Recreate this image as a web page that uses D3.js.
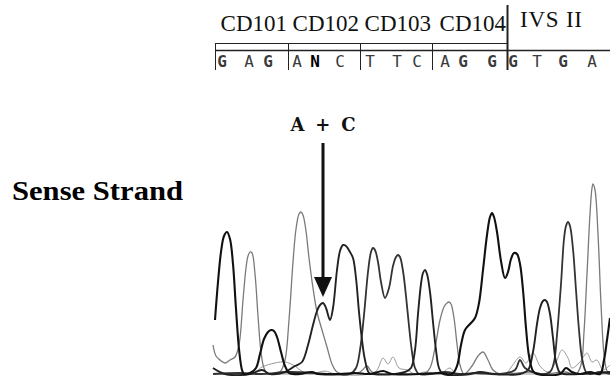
<!DOCTYPE html>
<html>
<head>
<meta charset="utf-8">
<script src="https://cdn.jsdelivr.net/npm/d3@7"></script>
<style>
  html, body { margin: 0; padding: 0; background: #fff; }
  svg { display: block; }
</style>
</head>
<body>
<div id="chart"></div>
<script>
// codons shown above the trace, and where each one ends (scan units)
const codons = ['CD101', 'CD102', 'CD103', 'CD104'];
const codonBounds = [2, 75, 147, 219, 294];
const intronLabel = 'IVS II';

// base calls and their scan positions
const bases = ['G', 'A', 'G', 'A', 'N', 'C', 'T', 'T', 'C', 'A', 'G', 'G', 'G', 'T', 'G', 'A'];
const basePos = [9, 36, 55, 84, 102, 127, 157, 184, 204, 232, 250, 279, 300, 324, 350, 379];

// chromatogram traces, [scan, signal]
const traceG = [[2,54],[5,92],[8,122],[11,138],[14,142],[17,135],[20,110],[23,65],[26,25],[29,4],[31,0],[37,1],[43,6],[47,20],[51,35],[55,42],[58,44],[61,43],[64,37],[68,22],[72,8],[76,1],[80,0],[87,0],[99,2],[105,0],[127,0],[142,1],[157,0],[170,3],[179,0],[207,0],[227,1],[239,0],[244,8],[248,29],[252,44],[257,50],[262,56],[266,71],[270,104],[274,139],[277,157],[279,161],[281,157],[284,142],[288,113],[292,96],[295,102],[298,115],[301,121],[304,120],[307,110],[310,84],[313,46],[316,18],[320,3],[324,0],[347,0],[353,6],[359,2],[367,0],[377,2],[387,0],[391,14],[394,34],[397,56]];
const traceC = [[0,6],[12,0],[37,0],[49,4],[57,0],[72,2],[82,8],[89,12],[95,29],[100,49],[104,63],[107,69],[110,71],[113,66],[117,54],[120,66],[124,104],[127,123],[130,129],[133,128],[137,122],[140,116],[143,96],[146,62],[149,34],[152,14],[156,1],[160,0],[182,0],[192,2],[198,6],[202,24],[205,60],[208,90],[210,101],[212,104],[214,100],[217,82],[220,52],[223,24],[226,6],[230,0],[257,0],[267,2],[282,0],[307,0],[315,4],[320,22],[324,50],[327,66],[330,73],[332,74],[334,72],[337,60],[340,36],[343,12],[347,1],[351,0],[367,0],[397,2]];
const traceT = [[0,0],[27,1],[47,0],[77,2],[117,0],[137,0],[143,6],[147,24],[151,59],[155,102],[158,122],[160,126],[162,124],[165,112],[168,92],[172,76],[176,86],[180,108],[183,117],[185,119],[187,117],[190,103],[193,78],[196,48],[199,22],[202,6],[206,0],[217,0],[232,2],[247,0],[262,1],[287,0],[302,4],[307,14],[312,6],[327,0],[337,2],[341,12],[344,39],[348,90],[351,135],[353,148],[355,152],[357,148],[360,125],[363,84],[366,44],[369,16],[373,2],[377,0],[387,2],[397,0]];
const traceA = [[0,29],[3,18],[7,14],[12,11],[17,14],[22,17],[26,29],[30,74],[33,106],[35,118],[37,122],[39,121],[42,100],[45,58],[48,22],[51,6],[55,0],[59,0],[67,2],[72,14],[76,54],[80,112],[83,145],[86,160],[88,162],[90,159],[93,143],[96,116],[100,86],[104,62],[109,44],[114,27],[119,10],[124,2],[132,0],[147,2],[154,8],[159,2],[187,0],[212,1],[217,6],[222,26],[227,54],[231,67],[234,71],[236,72],[238,70],[241,56],[244,30],[247,9],[251,0],[259,8],[265,18],[270,22],[275,14],[280,4],[287,0],[317,2],[332,0],[352,2],[363,0],[368,9],[371,42],[374,100],[377,160],[379,186],[380,190],[382,184],[385,140],[388,70],[391,20],[394,3],[397,0]];
const traceNoise = [[0,0],[42,2],[49,7],[62,11],[72,12],[82,8],[87,4],[97,0],[112,3],[122,0],[162,2],[170,16],[175,10],[180,17],[186,6],[194,4],[202,0],[212,2],[227,0],[237,6],[243,0],[292,0],[299,8],[307,17],[313,11],[320,21],[327,8],[335,2],[343,12],[349,24],[355,16],[359,6],[367,12],[374,21],[379,12],[384,14],[390,4],[397,9]];

// scan position of the mixed A + C call
const mixedScan = 110;

const width = 610;
const height = 376;

const svg = d3.select('#chart')
  .append('svg')
  .attr('width', width)
  .attr('height', height);

// scan units -> pixels, signal -> pixels
const x = d3.scaleLinear().domain([0, 400]).range([213, 613]);
const y = d3.scaleLinear().domain([0, 200]).range([374, 174]);

// header: codon names
svg.selectAll('text.codon')
  .data(codons)
  .enter()
  .append('text')
  .attr('class', 'codon')
  .attr('x', (d, i) => x(codonBounds[i + 1]) - 1)
  .attr('y', 31)
  .attr('text-anchor', 'end')
  .attr('font-family', '"Liberation Serif", "Times New Roman", serif')
  .attr('font-size', 23)
  .attr('fill', '#111')
  .text(d => d);

svg.append('text')
  .attr('x', x(codonBounds[4]) + 13)
  .attr('y', 27)
  .attr('font-family', '"Liberation Serif", "Times New Roman", serif')
  .attr('font-size', 23)
  .attr('textLength', 62)
  .attr('fill', '#111')
  .text(intronLabel);

// box lines round the base calls
const lines = svg.append('g').attr('stroke', '#222').attr('fill', 'none');
lines.append('line')
  .attr('x1', x(codonBounds[0])).attr('x2', x(codonBounds[4]))
  .attr('y1', 43.5).attr('y2', 43.5)
  .attr('stroke-width', 1);
lines.append('line')
  .attr('x1', x(codonBounds[0])).attr('x2', width)
  .attr('y1', 50.5).attr('y2', 50.5)
  .attr('stroke-width', 1.4);
lines.selectAll('line.sep')
  .data(codonBounds)
  .enter()
  .append('line')
  .attr('class', 'sep')
  .attr('x1', d => x(d) + 0.5).attr('x2', d => x(d) + 0.5)
  .attr('y1', (d, i) => i === 4 ? 5 : 43)
  .attr('y2', 70)
  .attr('stroke-width', (d, i) => i === 4 ? 2 : 1);

// base letters
svg.selectAll('text.base')
  .data(bases)
  .enter()
  .append('text')
  .attr('class', 'base')
  .attr('x', (d, i) => x(basePos[i]))
  .attr('y', 67)
  .attr('text-anchor', 'middle')
  .attr('font-family', '"DejaVu Sans Mono", monospace')
  .attr('font-size', 16)
  .attr('font-weight', d => (d === 'G' || d === 'N') ? 'bold' : 'normal')
  .attr('fill', d => d === 'N' ? '#000' : '#3a3a3a')
  .text(d => d);

// strand label
svg.append('text')
  .attr('x', 12)
  .attr('y', 200)
  .attr('font-family', '"Liberation Serif", "Times New Roman", serif')
  .attr('font-weight', 'bold')
  .attr('font-size', 27)
  .attr('textLength', 171)
  .attr('lengthAdjust', 'spacingAndGlyphs')
  .attr('fill', '#000')
  .text('Sense Strand');

// baseline
svg.append('line')
  .attr('x1', x(0)).attr('x2', width)
  .attr('y1', y(0)).attr('y2', y(0))
  .attr('stroke', '#999')
  .attr('stroke-width', 1);

// traces
const line = d3.line()
  .x(d => x(d[0]))
  .y(d => y(d[1]))
  .curve(d3.curveCatmullRom.alpha(0.5));

const traces = [
  {data: traceNoise, color: '#9a9a9a', w: 1},
  {data: traceA, color: '#7a7a7a', w: 1.3},
  {data: traceT, color: '#333', w: 1.8},
  {data: traceC, color: '#222', w: 1.9},
  {data: traceG, color: '#111', w: 2.1}
];

svg.append('g')
  .selectAll('path')
  .data(traces)
  .enter()
  .append('path')
  .attr('d', d => line(d.data))
  .attr('fill', 'none')
  .attr('stroke', d => d.color)
  .attr('stroke-width', d => d.w)
  .attr('stroke-linejoin', 'round');

// A + C annotation with arrow
const ax = x(mixedScan);
svg.append('text')
  .attr('x', ax)
  .attr('y', 131)
  .attr('text-anchor', 'middle')
  .attr('font-family', '"DejaVu Serif", "Courier New", serif')
  .attr('font-weight', 'bold')
  .attr('font-size', 18)
  .attr('textLength', 65)
  .attr('lengthAdjust', 'spacing')
  .attr('fill', '#111')
  .text('A + C');

svg.append('line')
  .attr('x1', ax).attr('x2', ax)
  .attr('y1', 143).attr('y2', 280)
  .attr('stroke', '#111')
  .attr('stroke-width', 3);

svg.append('path')
  .attr('d', `M${ax - 9},277 L${ax + 9},277 L${ax},297 Z`)
  .attr('fill', '#111');
</script>
</body>
</html>
